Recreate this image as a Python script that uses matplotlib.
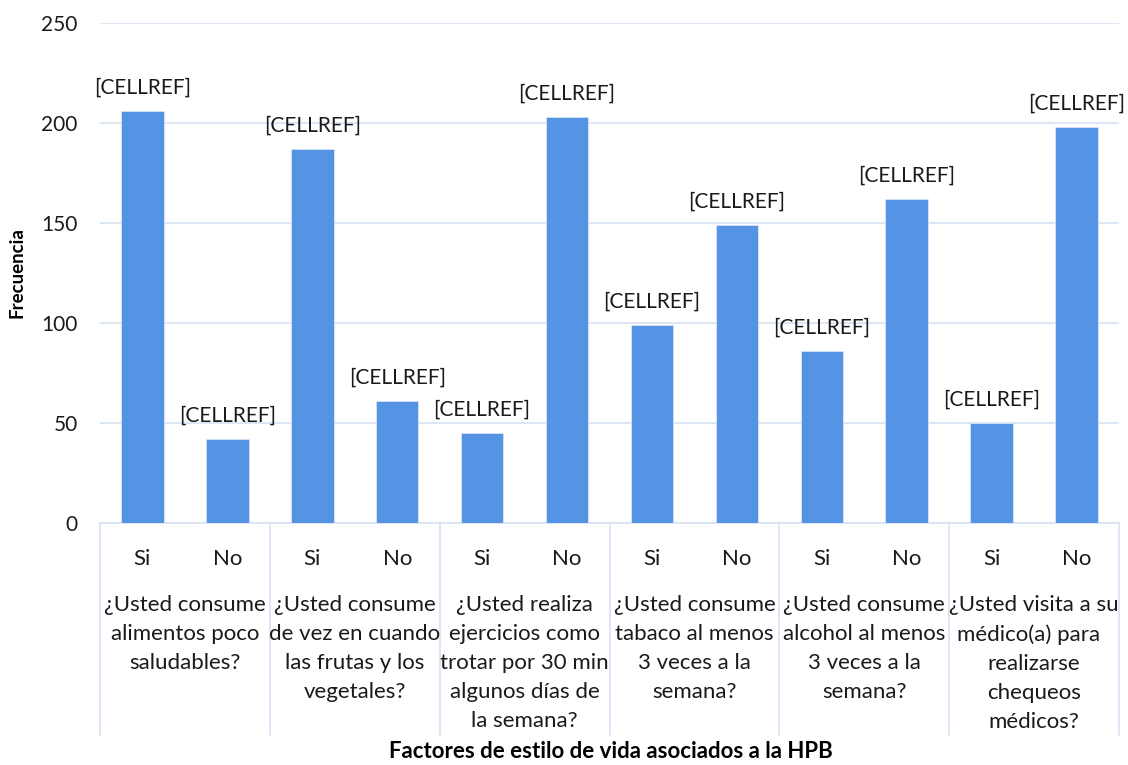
import numpy as np
import matplotlib.pyplot as plt

plt.rcParams['font.family'] = ['Lato', 'DejaVu Sans']

# Preguntas (nivel superior del eje X) y respuestas Si/No
preguntas = [
    '¿Usted consume\nalimentos poco\nsaludables?',
    '¿Usted consume\nde vez en cuando\nlas frutas y los\nvegetales?',
    '¿Usted realiza\nejercicios como\ntrotar por 30 min\nalgunos días de\nla semana?',
    '¿Usted consume\ntabaco al menos\n3 veces a la\nsemana?',
    '¿Usted consume\nalcohol al menos\n3 veces a la\nsemana?',
    '¿Usted visita a su\nmédico(a) para  \nrealizarse\nchequeos\nmédicos?',
]
respuestas = ['Si', 'No']
frec_si = [206, 187, 45, 99, 86, 50]
frec_no = [42, 61, 203, 149, 162, 198]
etiqueta_dato = '[CELLREF]'

valores = []
for s, n in zip(frec_si, frec_no):
    valores += [s, n]
x = np.arange(len(valores))

fig = plt.figure(figsize=(11.28, 7.65), dpi=100)
ax = fig.add_axes([100 / 1128, 1 - 523 / 765, 1019 / 1128, 500 / 765])

color_barra = '#5593E4'
color_rejilla = '#D6E2F3'
color_texto = '#1a1a1a'

ax.bar(x, valores, width=0.5, color=color_barra, edgecolor='#D6E4F7', linewidth=0.6, zorder=3)
for xi, v in zip(x, valores):
    ax.text(xi, v + 6.5, etiqueta_dato, ha='center', va='bottom', fontsize=15, color=color_texto)

ax.set_xlim(-0.5, len(valores) - 0.5)
ax.set_ylim(0, 250)
ax.set_yticks(np.arange(0, 251, 50))
ax.tick_params(axis='y', length=0, labelsize=15, pad=16, colors=color_texto)
ax.set_xticks([])
ax.grid(axis='y', color=color_rejilla, linewidth=1.2, zorder=0)
for lado in ['top', 'right', 'left']:
    ax.spines[lado].set_visible(False)
ax.spines['bottom'].set_color(color_rejilla)
ax.spines['bottom'].set_linewidth(1.2)

# eje de categorías en dos niveles
trans = ax.get_xaxis_transform()
for g in range(len(preguntas) + 1):
    xs = 2 * g - 0.5
    ax.plot([xs, xs], [0, -0.424], transform=trans, color=color_rejilla,
            linewidth=1.2, clip_on=False)
for xi in x:
    ax.text(xi, -0.072, respuestas[xi % 2], transform=trans, ha='center', va='center',
            fontsize=16, color=color_texto)
for g, p in enumerate(preguntas):
    ax.text(2 * g + 0.5, -0.144, p, transform=trans, ha='center', va='top',
            fontsize=16, color=color_texto, linespacing=1.57)

ax.set_ylabel('Frecuencia', fontsize=13.5, fontweight='bold')
ax.yaxis.set_label_coords(-0.073, 0.5)
fig.text(611 / 1128, 1 - 752 / 765, 'Factores de estilo de vida asociados a la HPB',
         ha='center', va='center', fontsize=16, fontweight='bold')

fig.savefig('out.png', dpi=100)
